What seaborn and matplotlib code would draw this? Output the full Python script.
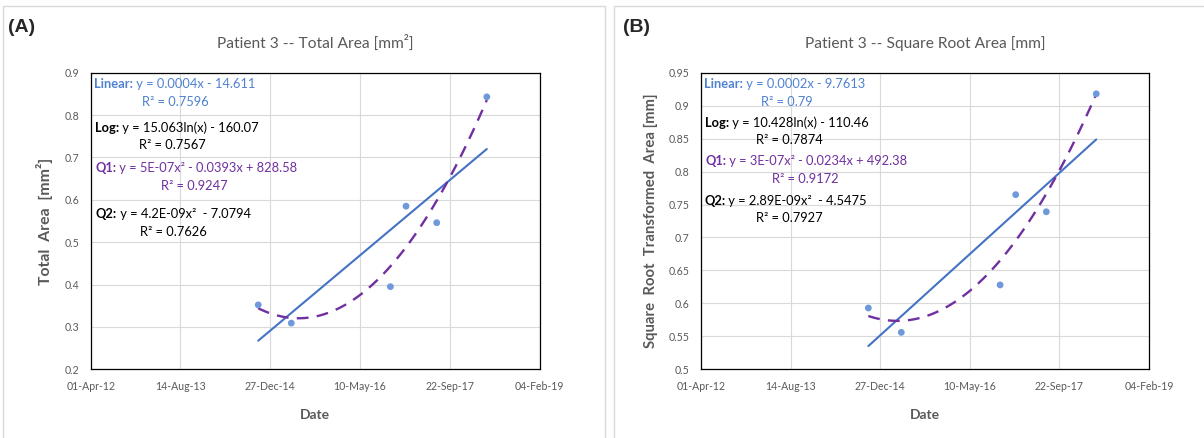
import numpy as np
import pandas as pd
import matplotlib
matplotlib.use("Agg")
import matplotlib.pyplot as plt
import seaborn as sns
from matplotlib.patches import Rectangle

# Dates as Excel serial numbers (days)
dates = [41933, 42117, 42669, 42756, 42927, 43206]
total_area = [0.352, 0.309, 0.395, 0.585, 0.546, 0.843]
sqrt_area = [0.593, 0.556, 0.628, 0.765, 0.739, 0.918]

date_ticks = [41000, 41500, 42000, 42500, 43000, 43500]
date_labels = ["01-Apr-12", "14-Aug-13", "27-Dec-14", "10-May-16", "22-Sep-17", "04-Feb-19"]

ticks_a = [0.2, 0.3, 0.4, 0.5, 0.6, 0.7, 0.8, 0.9]
ticks_b = [0.5, 0.55, 0.6, 0.65, 0.7, 0.75, 0.8, 0.85, 0.9, 0.95]

eq_names = ["Linear:", "Log:", "Q1:", "Q2:"]
eq_a = [" y = 0.0004x - 14.611", " y = 15.063ln(x) - 160.07",
        " y = 5E-07x² - 0.0393x + 828.58", " y = 4.2E-09x²  - 7.0794"]
r2_a = ["R² = 0.7596", "R² = 0.7567", "R² = 0.9247", "R² = 0.7626"]
eq_b = [" y = 0.0002x - 9.7613", " y = 10.428ln(x) - 110.46",
        " y = 3E-07x² - 0.0234x + 492.38", " y = 2.89E-09x²  - 4.5475"]
r2_b = ["R² = 0.79", "R² = 0.7874", "R² = 0.9172", "R² = 0.7927"]

df = pd.DataFrame({"date": dates, "total": total_area, "sqrt": sqrt_area})

sns.set_style("white")
plt.rcParams["font.family"] = ["Lato", "DejaVu Sans"]

W, H = 1204, 438
fig = plt.figure(figsize=(W / 100, H / 100), dpi=100)
renderer = fig.canvas.get_renderer()

gray = "#595959"
blue_line = "#4472C4"
blue_pt = "#7099DC"
blue_txt = "#4F81D0"
purple = "#7030A0"
eq_colors = [blue_txt, "black", purple, "black"]
EQ_SIZE = 9.3

# panel borders
fig.patches.append(Rectangle((3 / W, -0.01), 602 / W, 1 - 6 / H + 0.01, transform=fig.transFigure,
                             fill=False, edgecolor="#D9D9D9", lw=1))
fig.patches.append(Rectangle((614 / W, -0.01), 600 / W, 1 - 6 / H + 0.01, transform=fig.transFigure,
                             fill=False, edgecolor="#D9D9D9", lw=1))


def px(x, y):
    return x / W, 1 - y / H


def fit_size(t, target, vertical=False):
    # scale a text so its length in pixels matches the reference (Calibri is narrower than Lato)
    bb = t.get_window_extent(renderer)
    size = bb.height if vertical else bb.width
    t.set_fontsize(t.get_fontsize() * target / size)


def draw_panel(rect, ycol, ylim, yticks, title, ylabel, sizes, tag, tag_xy, eqs, r2s, eq_pos, r2_pos):
    ax = fig.add_axes(rect)
    ax.grid(True, color="#D9D9D9", lw=0.8)
    ax.set_axisbelow(True)
    # trend lines: linear (solid) and 2nd order (dashed)
    sns.regplot(data=df, x="date", y=ycol, ax=ax, scatter=False, ci=None, truncate=True,
                line_kws=dict(color=blue_line, lw=1.5))
    sns.regplot(data=df, x="date", y=ycol, ax=ax, scatter=False, ci=None, truncate=True, order=2,
                line_kws=dict(color=purple, lw=1.7, linestyle=(0, (5, 3.5))))
    sns.scatterplot(data=df, x="date", y=ycol, ax=ax, color=blue_pt, s=24, edgecolor="none", zorder=3)
    ax.set_xlim(date_ticks[0], date_ticks[-1])
    ax.set_xticks(date_ticks)
    ax.set_xticklabels(date_labels)
    ax.set_ylim(*ylim)
    ax.set_yticks(yticks)
    ax.set_yticklabels([f"{v:g}" for v in yticks])
    for s in ax.spines.values():
        s.set_color("black")
        s.set_linewidth(0.9)
    ax.tick_params(direction="inout", length=5, width=0.8, color="black",
                   labelcolor=gray, labelsize=7.6, pad=6)
    xl = ax.set_xlabel("Date", fontsize=10, fontweight="bold", color=gray, labelpad=12)
    yl = ax.set_ylabel(ylabel, fontsize=10, fontweight="bold", color=gray, labelpad=8)
    tt = ax.set_title(title, fontsize=11, color=gray, pad=18)
    fit_size(tt, sizes[0])
    fit_size(yl, sizes[1], vertical=True)
    fit_size(xl, 30)
    fig.text(*px(*tag_xy), tag, fontsize=14, fontweight="bold", family="Liberation Sans",
             va="center", ha="left")
    fig.canvas.draw()
    for name, eq, r2, c, (ex, ey), (rx, ry) in zip(eq_names, eqs, r2s, eq_colors, eq_pos, r2_pos):
        t1 = fig.text(*px(ex, ey), name, fontsize=EQ_SIZE, fontweight="bold", color=c, va="center")
        ax.annotate(eq, xy=(1, 0), xycoords=t1, va="bottom", ha="left", fontsize=EQ_SIZE, color=c)
        fig.text(*px(rx, ry), r2, fontsize=EQ_SIZE, color=c, va="center", ha="center")
    return ax


draw_panel([90.7 / W, 1 - 369.3 / H, 448.9 / W, 296.6 / H], "total", (0.2, 0.9), ticks_a,
           "Patient 3 -- Total Area [mm²]", "Total  Area  [mm²]", (196, 127), "(A)", (8, 27),
           eq_a, r2_a,
           [(94, 84), (95, 128), (95, 168), (96, 214)],
           [(175, 102), (172, 145), (194, 186), (173, 232)])

draw_panel([701.3 / W, 1 - 369.3 / H, 447.6 / W, 296.6 / H], "sqrt", (0.5, 0.95), ticks_b,
           "Patient 3 -- Square Root Area [mm]", "Square  Root  Transformed  Area [mm]", (241, 256),
           "(B)", (623, 27),
           eq_b, r2_b,
           [(704, 84), (705, 123), (705, 161), (704, 201)],
           [(787, 102), (789, 140), (805, 179), (789, 218)])

fig.savefig("out.png", dpi=100)
